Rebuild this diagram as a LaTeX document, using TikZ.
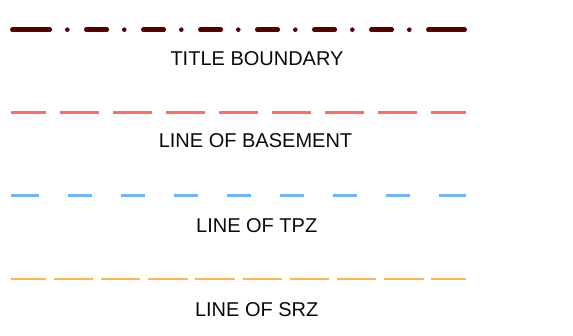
\documentclass[tikz,border=0pt]{standalone}
\usepackage{fontspec}
\setmainfont{Liberation Sans}
\definecolor{titlecol}{HTML}{560000}
\definecolor{basecol}{HTML}{FF6B6B}
\definecolor{tpzcol}{HTML}{6CB4FF}
\definecolor{srzcol}{HTML}{FFB652}
\definecolor{txtcol}{HTML}{0A0A0A}
\tikzset{
  legendtext/.style={anchor=base, inner sep=0pt, text=txtcol, font=\fontsize{20pt}{24pt}\selectfont},
  titleline/.style={draw=titlecol, line width=4.6pt, line cap=round,
    dash pattern=on 37.5pt off 17.5pt on 0pt off 19pt
      on 20.5pt off 17.5pt on 0pt off 19pt on 20.5pt off 17.5pt on 0pt off 19pt
      on 20.5pt off 17.5pt on 0pt off 19pt on 20.5pt off 17.5pt on 0pt off 19pt
      on 20.5pt off 17.5pt on 0pt off 19pt on 20.5pt off 17.5pt on 0pt off 19pt
      on 40pt off 20pt},
  baseline/.style={draw=basecol, line width=2.4pt, dash pattern=on 38.6pt off 14.4pt, dash phase=3.6pt},
  tpzline/.style={draw=tpzcol, line width=2.4pt,
    dash pattern=on 28.3pt off 28.4pt
      on 24.6pt off 28.4pt on 24.6pt off 28.4pt on 24.6pt off 28.4pt
      on 24.6pt off 28.4pt on 24.6pt off 28.4pt on 24.6pt off 28.4pt
      on 24.6pt off 28.4pt on 30pt off 20pt},
  srzline/.style={draw=srzcol, line width=2.6pt, dash pattern=on 39.5pt off 7.7pt, dash phase=4.5pt},
}
\begin{document}
\begin{tikzpicture}[x=1pt,y=-1pt]
\useasboundingbox (0,0) rectangle (573,336);
% title boundary
\coordinate (t1) at (12.3,29.7);
\coordinate (t2) at (464.7,29.7);
\draw[titleline] (t1) -- (t2);
\node[legendtext] (tt) at (257,65.5) {TITLE BOUNDARY};
% basement
\coordinate (b1) at (11,112.7);
\coordinate (b2) at (466,112.7);
\draw[baseline] (b1) -- (b2);
\node[legendtext] (bt) at (255.5,147.5) {LINE OF BASEMENT};
% TPZ
\coordinate (p1) at (11,195.7);
\coordinate (p2) at (466,195.7);
\draw[tpzline] (p1) -- (p2);
\node[legendtext] (pt) at (256.7,232.5) {LINE OF TPZ};
% SRZ
\coordinate (s1) at (11,279);
\coordinate (s2) at (466,279);
\draw[srzline] (s1) -- (s2);
\node[legendtext] (st) at (256.7,316.5) {LINE OF SRZ};
\end{tikzpicture}
\end{document}
